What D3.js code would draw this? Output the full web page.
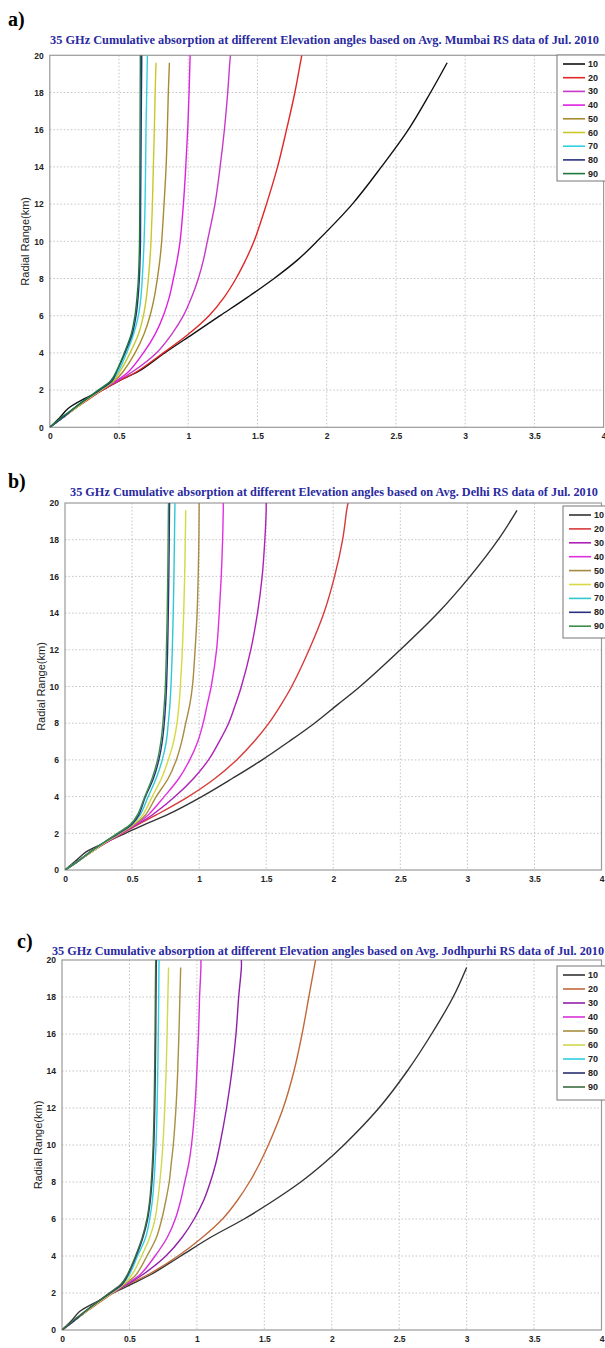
<!DOCTYPE html>
<html><head><meta charset="utf-8">
<script src="https://cdn.jsdelivr.net/npm/d3@7"></script>
<style>body{margin:0;background:#fff}svg{display:block}</style>
</head><body>
<svg id="c" width="605" height="1348"></svg>
<script>
// ---------- data ----------
const ranges = [0,0.5,1,1.5,2,2.5,3,4,5,6,7,8,9,10,12,14,16,18,19.6,20]; // Radial range (km)
const angles = ["10","20","30","40","50","60","70","80","90"];
const xTicks = [0,0.5,1,1.5,2,2.5,3,3.5,4];
const yTicks = [0,2,4,6,8,10,12,14,16,18,20];
const panelLabels = ["a)","b)","c)"];
const titles = [
 "35 GHz Cumulative absorption at different Elevation angles based on Avg. Mumbai RS data of Jul. 2010",
 "35 GHz Cumulative absorption at different Elevation angles based on Avg. Delhi RS data of Jul. 2010",
 "35 GHz Cumulative absorption at different Elevation angles based on Avg. Jodhpurhi RS data of Jul. 2010"];

// Mumbai
const a10 = [0,0.07,0.13,0.24,0.38,0.5,0.64,0.83,1.03,1.23,1.43,1.62,1.79,1.93,2.185,2.395,2.59,2.75,2.87,null];
const a20 = [0,0.09,0.18,0.28,0.38,0.5,0.63,0.82,1.0,1.15,1.26,1.345,1.415,1.475,1.565,1.645,1.71,1.77,1.81,1.82];
const a30 = [0,0.09,0.18,0.27,0.37,0.49,0.6,0.77,0.88,0.965,1.025,1.073,1.11,1.138,1.193,1.23,1.261,1.285,1.3,1.305];
const a40 = [0,0.09,0.18,0.27,0.37,0.48,0.57,0.676,0.76,0.82,0.863,0.893,0.92,0.941,0.965,0.982,0.996,1.006,1.012,1.014];
const a50 = [0,0.09,0.18,0.27,0.37,0.47,0.53,0.616,0.68,0.724,0.755,0.777,0.795,0.808,0.825,0.84,0.849,0.856,0.864,null];
const a60 = [0,0.09,0.18,0.27,0.37,0.46,0.507,0.58,0.64,0.676,0.698,0.712,0.723,0.731,0.741,0.748,0.755,0.761,0.767,null];
const a70 = [0,0.09,0.17,0.26,0.36,0.45,0.495,0.555,0.605,0.64,0.658,0.668,0.675,0.681,0.688,0.692,0.695,0.7,0.704,0.705];
const a80 = [0,0.09,0.17,0.26,0.36,0.45,0.483,0.543,0.595,0.623,0.638,0.647,0.652,0.655,0.656,0.658,0.66,0.662,0.664,0.664];
const a90 = [0,0.08,0.17,0.26,0.35,0.44,0.48,0.538,0.588,0.615,0.63,0.64,0.645,0.648,0.65,0.651,0.652,0.653,0.654,0.654];
// Delhi
const b10 = [0,0.08,0.16,0.3,0.45,0.6,0.76,1.02,1.25,1.47,1.67,1.86,2.03,2.2,2.5,2.78,3.02,3.23,3.37,null];
const b20 = [0,0.1,0.2,0.31,0.43,0.55,0.68,0.92,1.12,1.28,1.41,1.52,1.61,1.69,1.82,1.93,2.01,2.07,2.1,2.11];
const b30 = [0,0.1,0.2,0.31,0.42,0.54,0.65,0.82,0.96,1.07,1.15,1.22,1.27,1.315,1.385,1.435,1.47,1.49,1.5,1.5];
const b40 = [0,0.1,0.2,0.3,0.42,0.53,0.62,0.74,0.85,0.93,0.99,1.03,1.06,1.09,1.13,1.15,1.165,1.175,1.18,1.18];
const b50 = [0,0.1,0.2,0.3,0.41,0.52,0.6,0.68,0.77,0.83,0.87,0.9,0.93,0.95,0.97,0.985,0.993,0.998,1.0,1.0];
const b60 = [0,0.1,0.2,0.3,0.41,0.51,0.58,0.65,0.72,0.77,0.81,0.835,0.85,0.86,0.875,0.885,0.892,0.897,0.9,null];
const b70 = [0,0.1,0.19,0.29,0.4,0.5,0.56,0.62,0.68,0.725,0.755,0.77,0.782,0.79,0.8,0.807,0.812,0.816,0.819,0.82];
const b80 = [0,0.1,0.19,0.29,0.4,0.5,0.55,0.6,0.66,0.7,0.725,0.74,0.75,0.757,0.765,0.77,0.774,0.777,0.779,0.78];
const b90 = [0,0.1,0.19,0.29,0.39,0.49,0.54,0.595,0.65,0.69,0.715,0.73,0.74,0.748,0.756,0.762,0.766,0.769,0.771,0.772];
// Jodhpur
const c10 = [0,0.07,0.13,0.25,0.38,0.52,0.66,0.88,1.1,1.35,1.57,1.77,1.94,2.09,2.35,2.56,2.74,2.9,3.0,null];
const c20 = [0,0.09,0.18,0.28,0.38,0.5,0.64,0.86,1.04,1.19,1.3,1.39,1.465,1.53,1.64,1.72,1.78,1.83,1.87,1.88];
const c30 = [0,0.09,0.18,0.27,0.37,0.49,0.6,0.77,0.89,0.98,1.05,1.1,1.14,1.17,1.22,1.26,1.29,1.31,1.33,1.33];
const c40 = [0,0.09,0.18,0.27,0.37,0.48,0.58,0.69,0.78,0.84,0.88,0.91,0.94,0.96,0.985,1.0,1.012,1.02,1.03,1.03];
const c50 = [0,0.09,0.18,0.27,0.37,0.47,0.55,0.63,0.7,0.74,0.77,0.795,0.81,0.825,0.845,0.858,0.867,0.874,0.88,null];
const c60 = [0,0.09,0.18,0.27,0.37,0.46,0.52,0.59,0.65,0.69,0.71,0.725,0.738,0.748,0.762,0.772,0.779,0.785,0.79,null];
const c70 = [0,0.09,0.17,0.26,0.36,0.45,0.5,0.56,0.62,0.65,0.67,0.682,0.69,0.697,0.705,0.71,0.714,0.717,0.719,0.72];
const c80 = [0,0.09,0.17,0.26,0.36,0.45,0.49,0.55,0.6,0.635,0.655,0.667,0.675,0.681,0.688,0.692,0.695,0.697,0.699,0.7];
const c90 = [0,0.08,0.17,0.26,0.35,0.44,0.485,0.545,0.595,0.63,0.65,0.662,0.67,0.676,0.683,0.687,0.69,0.692,0.694,0.695];

const colorsA = ["#111111","#e02828","#c838c8","#e020e0","#a88a30","#c8c828","#30d0e0","#283080","#1e7a3c"];
const colorsB = ["#333333","#d83a3a","#b020b8","#e030e0","#a88a40","#d8d840","#30c8d0","#283080","#3c8c4c"];
const colorsC = ["#333333","#c06a3c","#9020a8","#d830d8","#a89040","#d0d850","#30d0e0","#283070","#3c6c40"];

// ---------- drawing ----------
const svg = d3.select("#c");
const serif = "'Liberation Serif','Times New Roman',serif";
const sans = "'Liberation Sans',Arial,sans-serif";

const panels = [
 {series:[a10,a20,a30,a40,a50,a60,a70,a80,a90], colors:colorsA,
  L:49.8, R:603.6, T:55.3, B:427.3, lab:[8,26], tx:[50,599], ty:44,
  leg:{x:557,y:55,w:52,h:126,y0:64,dy:13.7}, yl:29},
 {series:[b10,b20,b30,b40,b50,b60,b70,b80,b90], colors:colorsB,
  L:65, R:601.5, T:503, B:870, lab:[8,488], tx:[70,598], ty:496,
  leg:{x:563,y:506,w:46,h:132,y0:515,dy:13.9}, yl:45},
 {series:[c10,c20,c30,c40,c50,c60,c70,c80,c90], colors:colorsC,
  L:62, R:601.5, T:960, B:1330, lab:[17,948], tx:[52,604], ty:955,
  leg:{x:557,y:966,w:52,h:134,y0:975,dy:14}, yl:42}
];

panels.forEach((p,pi)=>{
  const g = svg.append("g");
  const x = d3.scaleLinear().domain([0,4]).range([p.L,p.R]);
  const y = d3.scaleLinear().domain([0,20]).range([p.B,p.T]);

  g.append("text").attr("x",p.lab[0]).attr("y",p.lab[1])
   .attr("font-family",serif).attr("font-weight","bold").attr("font-size",20)
   .text(panelLabels[pi]);
  g.append("text").attr("x",p.tx[0]).attr("y",p.ty)
   .attr("font-family",serif).attr("font-weight","bold").attr("font-size",11.5)
   .attr("fill","#2a2aa0")
   .attr("textLength",p.tx[1]-p.tx[0]).attr("lengthAdjust","spacingAndGlyphs")
   .text(titles[pi]);

  g.append("g").selectAll("line").data(xTicks.slice(1,-1)).join("line")
   .attr("x1",d=>x(d)).attr("x2",d=>x(d)).attr("y1",p.T).attr("y2",p.B)
   .attr("stroke","#bdbdbd").attr("stroke-dasharray","1.5,2").attr("stroke-width",0.9);
  g.append("g").selectAll("line").data(yTicks.slice(1,-1)).join("line")
   .attr("y1",d=>y(d)).attr("y2",d=>y(d)).attr("x1",p.L).attr("x2",p.R)
   .attr("stroke","#bdbdbd").attr("stroke-dasharray","1.5,2").attr("stroke-width",0.9);

  const ax = g.append("g").attr("transform",`translate(0,${p.B})`)
    .call(d3.axisBottom(x).tickValues(xTicks).tickFormat(d3.format("~g")).tickSize(0).tickPadding(6));
  const ay = g.append("g").attr("transform",`translate(${p.L},0)`)
    .call(d3.axisLeft(y).tickValues(yTicks).tickSize(0).tickPadding(6));
  [ax,ay].forEach(a=>{
    a.select(".domain").remove();
    a.selectAll("text").attr("font-family",sans).attr("font-weight","bold")
     .attr("font-size",8.5).attr("fill","#222");
  });
  g.append("rect").attr("x",p.L).attr("y",p.T).attr("width",p.R-p.L).attr("height",p.B-p.T)
   .attr("fill","none").attr("stroke","#9a9a9a").attr("stroke-width",1.2);

  g.append("text").attr("transform",`translate(${p.yl},${(p.T+p.B)/2}) rotate(-90)`)
   .attr("text-anchor","middle").attr("font-family",sans).attr("font-size",11)
   .attr("fill","#222").text("Radial Range(km)");

  const clip = "clip"+pi;
  g.append("clipPath").attr("id",clip).append("rect")
   .attr("x",p.L).attr("y",p.T).attr("width",p.R-p.L).attr("height",p.B-p.T);
  const line = d3.line().defined(d=>d[0]!==null)
    .x(d=>x(d[0])).y(d=>y(d[1])).curve(d3.curveCatmullRom.alpha(0.5));
  const cg = g.append("g").attr("clip-path",`url(#${clip})`);
  p.series.forEach((s,i)=>{
    const pts = s.map((v,k)=>[v,ranges[k]]);
    cg.append("path").attr("d",line(pts)).attr("fill","none")
      .attr("stroke",p.colors[i]).attr("stroke-width",1.4);
  });

  const lg = g.append("g");
  lg.append("rect").attr("x",p.leg.x).attr("y",p.leg.y).attr("width",p.leg.w).attr("height",p.leg.h)
    .attr("fill","#fff").attr("stroke","#777").attr("stroke-width",1);
  angles.forEach((a,i)=>{
    const yy = p.leg.y0 + i*p.leg.dy;
    lg.append("line").attr("x1",p.leg.x+6).attr("x2",p.leg.x+28).attr("y1",yy).attr("y2",yy)
      .attr("stroke",p.colors[i]).attr("stroke-width",1.6);
    lg.append("text").attr("x",p.leg.x+31).attr("y",yy+3).attr("font-family",sans)
      .attr("font-weight","bold").attr("font-size",9).attr("fill","#222").text(a);
  });
});
</script>
</body></html>
